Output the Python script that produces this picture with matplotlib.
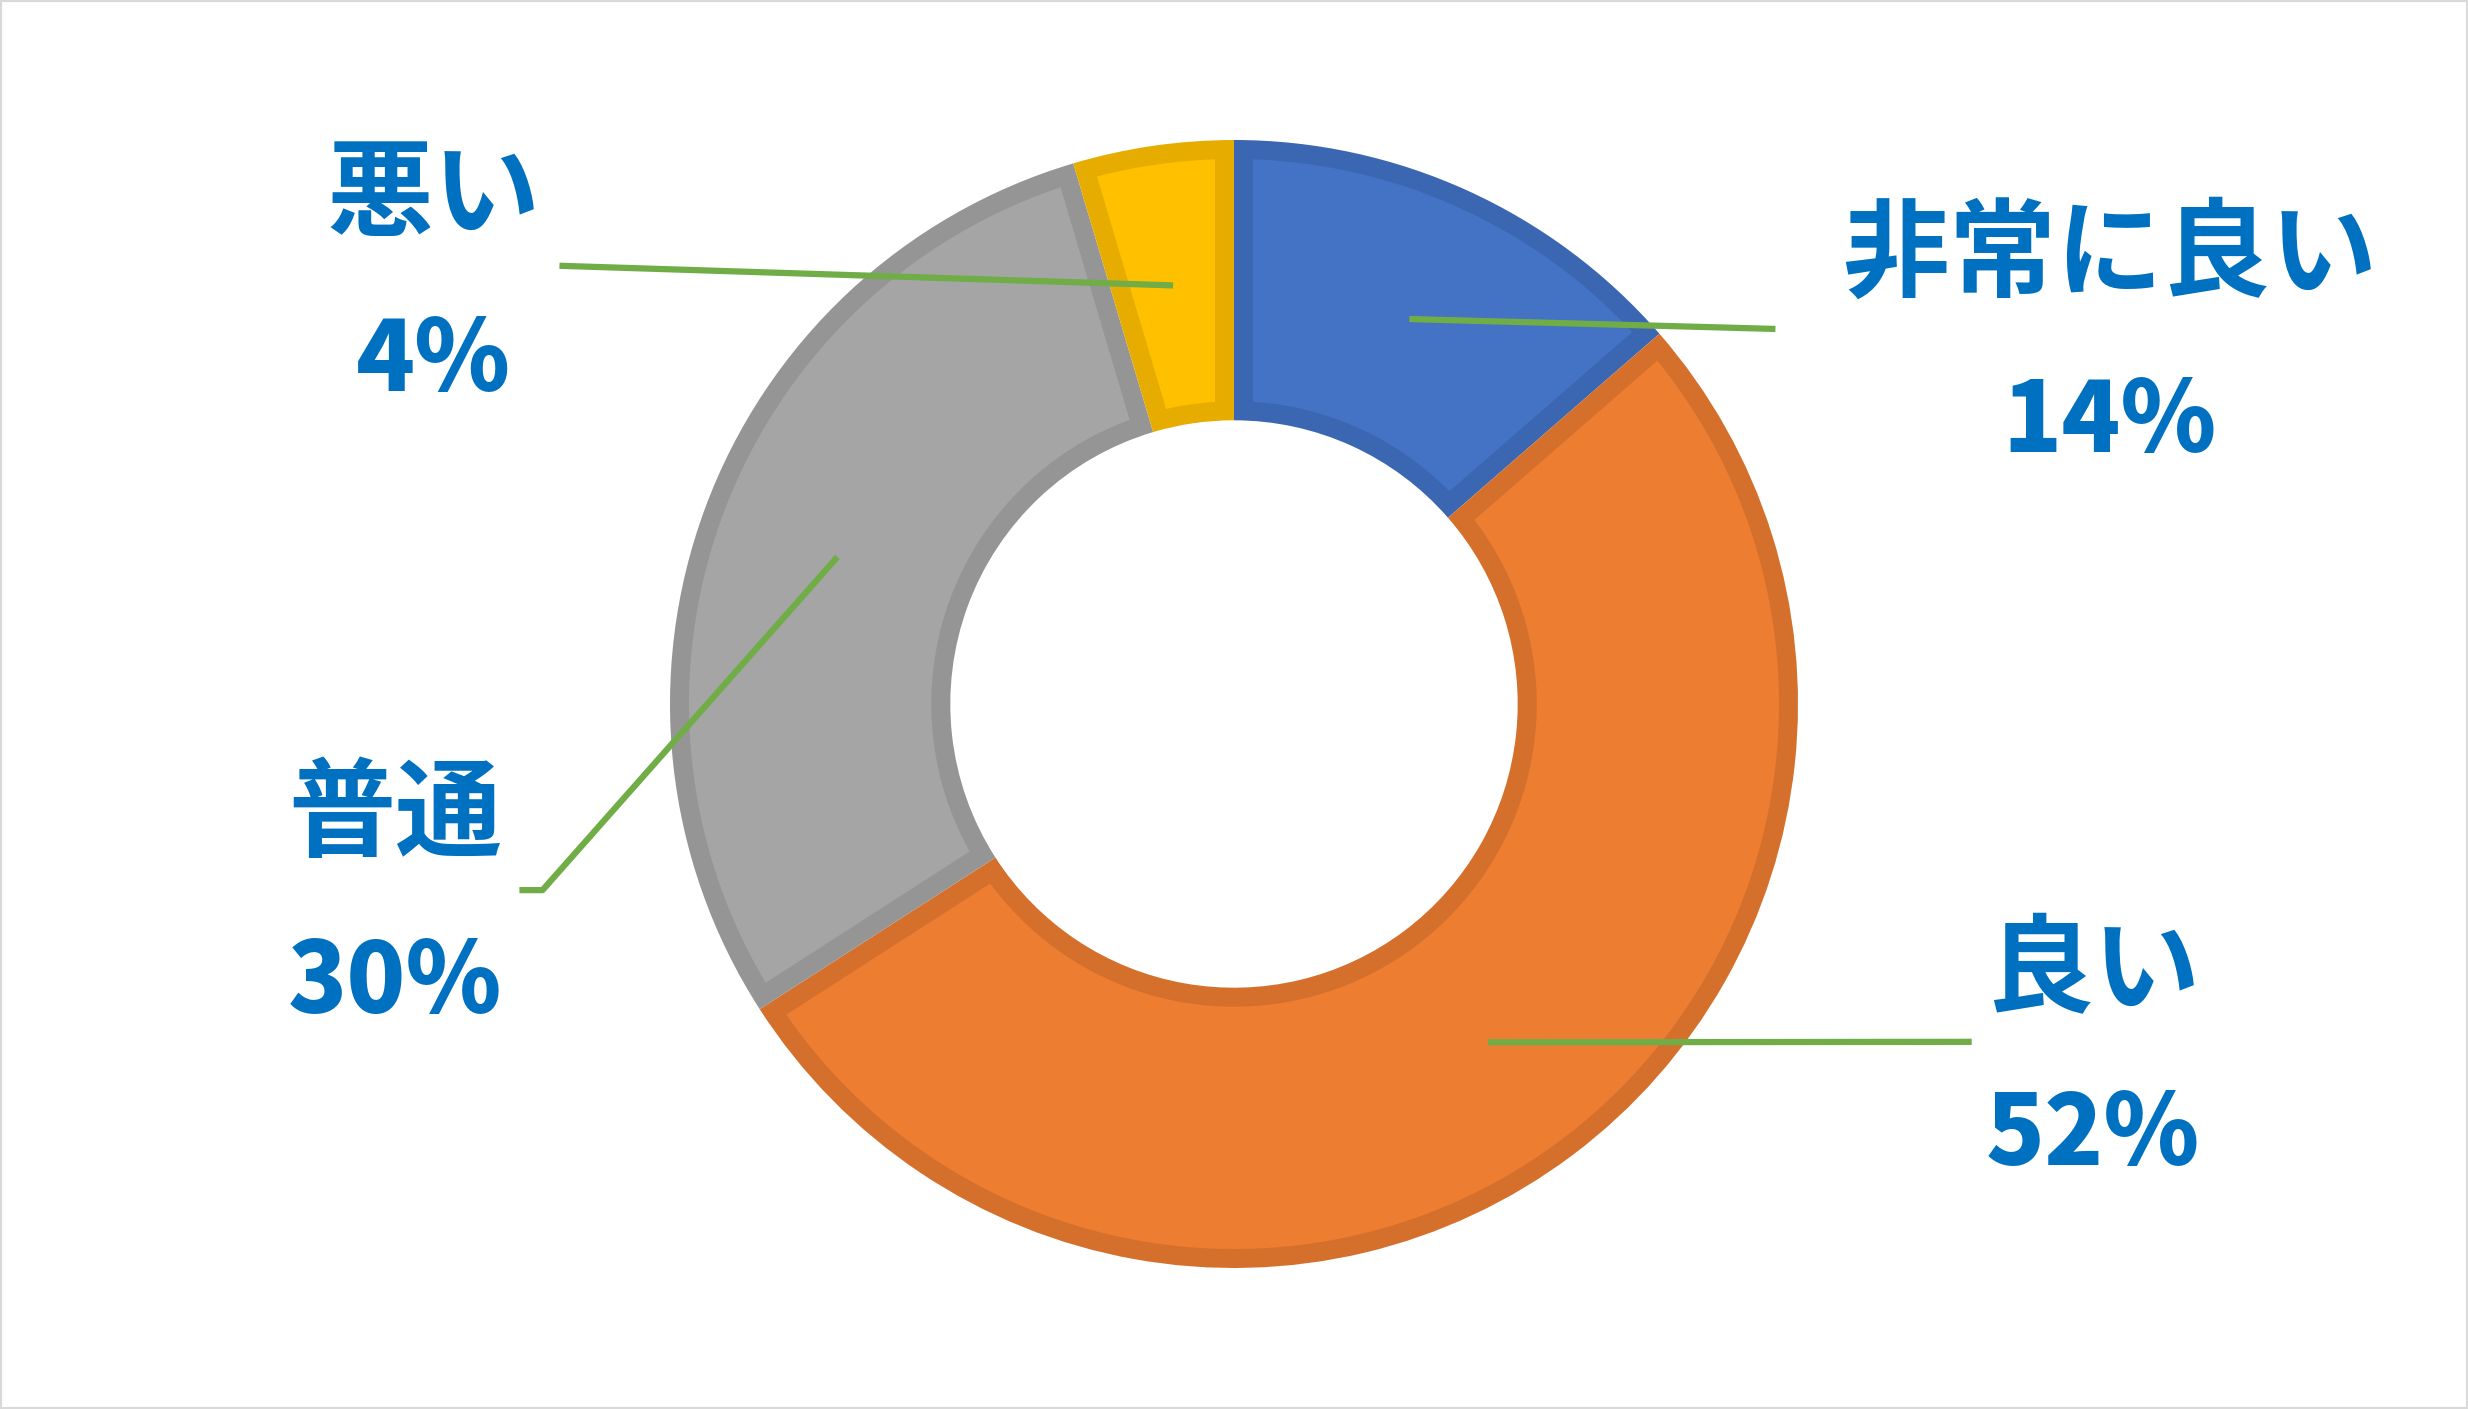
import matplotlib
matplotlib.use("Agg")
import numpy as np
import matplotlib.pyplot as plt
from matplotlib.patches import Rectangle, Polygon

# data
labels = ["非常に良い", "良い", "普通", "悪い"]
values = [13.6, 52.3, 29.5, 4.6]       # slice shares as drawn
pct_labels = ["14%", "52%", "30%", "4%"]
fills = ["#4472C4", "#ED7D31", "#A5A5A5", "#FFC000"]
edges = ["#3A66B2", "#D4702C", "#959595", "#E6AD00"]

# label layout (data units, outer radius = 1)
label_x = [1.553, 1.523, -1.488, -1.419]
name_y = [0.794, -0.477, -0.200, 0.899]
pct_y = [0.498, -0.766, -0.496, 0.606]
# leader line end points (near the labels)
leader_end = [
    [(0.960, 0.665)],
    [(1.308, -0.599)],
    [(-1.226, -0.330), (-1.267, -0.330)],
    [(-1.196, 0.777)],
]

W, H, DPI = 2468, 1409, 100
cx, cy, R = 1234, 704, 564   # pixel centre and outer radius
RING = 0.497
BORDER = 19 / R              # border band width inside each wedge


def inset_wedge(t1, t2, r_out, r_in, d, n=300):
    """polygon of an annular wedge shrunk by d on every side"""
    ro, ri = r_out - d, r_in + d
    so, si = np.degrees(np.arcsin(d / ro)), np.degrees(np.arcsin(d / ri))
    a_out = np.radians(np.linspace(t1 + so, t2 - so, n))
    a_in = np.radians(np.linspace(t2 - si, t1 + si, n))
    pts = np.concatenate([
        np.column_stack([ro * np.cos(a_out), ro * np.sin(a_out)]),
        np.column_stack([ri * np.cos(a_in), ri * np.sin(a_in)]),
    ])
    return pts


plt.rcParams['font.family'] = ['Noto Sans CJK JP', 'DejaVu Sans']

fig = plt.figure(figsize=(W / DPI, H / DPI), dpi=DPI)
ax = fig.add_axes([0, 0, 1, 1])

# border colour wedges, then the fill drawn inset on top
wedges, _ = ax.pie(values, colors=edges, startangle=90, counterclock=False,
                   radius=1.0, wedgeprops=dict(width=RING, linewidth=0))
for w, fc in zip(wedges, fills):
    pts = inset_wedge(w.theta1, w.theta2, 1.0, 1.0 - RING, BORDER)
    ax.add_patch(Polygon(pts, closed=True, facecolor=fc, edgecolor='none', zorder=2))

ax.set_xlim(-cx / R, (W - cx) / R)
ax.set_ylim(-(H - cy) / R, cy / R)
ax.set_aspect('auto')
ax.axis('off')

for i, w in enumerate(wedges):
    mid = np.deg2rad((w.theta1 + w.theta2) / 2)
    pts = [(0.75 * np.cos(mid), 0.75 * np.sin(mid))] + leader_end[i]
    xs, ys = zip(*pts)
    ax.plot(xs, ys, color="#70AD47", lw=4.5, solid_capstyle='butt', zorder=5)

    ax.text(label_x[i], name_y[i], labels[i], ha='center', va='center',
            fontsize=77, fontweight='bold', color="#0070C0", zorder=6)
    ax.text(label_x[i], pct_y[i], pct_labels[i], ha='center', va='center',
            fontsize=70, fontweight=900, color="#0070C0", zorder=6)

fig.patches.append(Rectangle((0, 0), 1, 1, transform=fig.transFigure,
                             fill=False, edgecolor="#D9D9D9", linewidth=3))

fig.savefig("out.png", dpi=DPI)
